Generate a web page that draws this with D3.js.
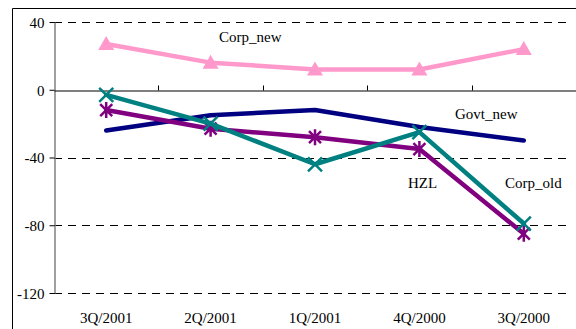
<!DOCTYPE html>
<html>
<head>
<meta charset="utf-8">
<script src="https://cdn.jsdelivr.net/npm/d3@7"></script>
<style>
  html, body { margin: 0; padding: 0; background: #fff; }
  svg { display: block; }
  text { font-family: "Liberation Serif", "Times New Roman", serif; }
</style>
</head>
<body>
<svg id="chart" width="576" height="329"></svg>
<script>
// Quarterly spread changes per bond series
const quarters = ["3Q/2001", "2Q/2001", "1Q/2001", "4Q/2000", "3Q/2000"];
const corpNew  = [27, 16, 12, 12, 24];
const govtNew  = [-24, -15, -12, -22, -30];
const corpOld  = [-3, -20, -44, -25, -79];
const hzl      = [-12, -23, -28, -35, -85];
const yTicks   = [40, 0, -40, -80, -120];

const series = [
  { name: "Govt_new", values: govtNew, color: "#000080", marker: "none",
    label: { x: 455, y: 119 } },
  { name: "HZL", values: hzl, color: "#800080", marker: "star",
    label: { x: 408, y: 188 } },
  { name: "Corp_old", values: corpOld, color: "#008080", marker: "x",
    label: { x: 505, y: 188 } },
  { name: "Corp_new", values: corpNew, color: "#FF99CC", marker: "triangle",
    label: { x: 219, y: 42 } }
];

const svg = d3.select("#chart");
const plotLeft = 54, plotRight = 576, plotTop = 22, plotBottom = 293;

const x = d3.scaleBand().domain(quarters).range([plotLeft, plotRight]);
const y = d3.scaleLinear().domain([-120, 40]).range([plotBottom, plotTop]);

// outer frame
svg.append("path")
  .attr("d", `M12.5,${329}V8.5H576`)
  .attr("fill", "none").attr("stroke", "#000").attr("stroke-width", 1);

// dashed gridlines
svg.append("g").selectAll("line")
  .data(yTicks.filter(d => d !== 0))
  .join("line")
  .attr("x1", plotLeft).attr("x2", 572)
  .attr("y1", d => Math.round(y(d)) + 0.5).attr("y2", d => Math.round(y(d)) + 0.5)
  .attr("stroke", "#000").attr("stroke-width", 1)
  .attr("stroke-dasharray", "8,6");

// y axis (plain hyphen for negative numbers)
const yAxis = svg.append("g")
  .attr("transform", `translate(${plotLeft + 0.5},0)`)
  .call(d3.axisLeft(y).tickValues(yTicks).tickSize(5).tickSizeOuter(0).tickFormat(d => String(d)));
yAxis.select(".domain").attr("stroke", "#808080").attr("stroke-width", 1.5);
yAxis.selectAll(".tick line").attr("stroke", "#000");
yAxis.selectAll(".tick text")
  .attr("x", -10).attr("dy", "0.35em")
  .attr("font-size", 15).attr("fill", "#000")
  .attr("font-family", "Liberation Serif, serif");

// zero line with category ticks
const zeroY = Math.round(y(0)) + 0.5;
const xAxis = svg.append("g")
  .attr("transform", `translate(0,${zeroY})`)
  .call(d3.axisBottom(x).tickSize(0).tickSizeOuter(0).tickFormat(""));
xAxis.select(".domain").attr("stroke", "#000").attr("stroke-width", 1.2);
svg.append("g").selectAll("line")
  .data(quarters.slice(1))
  .join("line")
  .attr("x1", d => Math.round(x(d)) + 0.5).attr("x2", d => Math.round(x(d)) + 0.5)
  .attr("y1", zeroY).attr("y2", zeroY - 5)
  .attr("stroke", "#000");

// category labels
svg.append("g").selectAll("text")
  .data(quarters)
  .join("text")
  .attr("x", d => x(d) + x.bandwidth() / 2)
  .attr("y", 323)
  .attr("text-anchor", "middle")
  .attr("font-size", 15)
  .text(d => d);

const cx = (d, i) => x(quarters[i]) + x.bandwidth() / 2;
const line = d3.line().x(cx).y(d => y(d));

series.forEach(s => {
  const g = svg.append("g");
  g.append("path")
    .datum(s.values)
    .attr("d", line)
    .attr("fill", "none")
    .attr("stroke", s.color)
    .attr("stroke-width", 4.5)
    .attr("stroke-linecap", "round")
    .attr("stroke-linejoin", "round");

  const pts = g.selectAll("g.pt")
    .data(s.values)
    .join("g")
    .attr("transform", (d, i) => `translate(${cx(d, i)},${y(d)})`);

  if (s.marker === "triangle") {
    pts.append("path")
      .attr("d", "M0,-8L8,6L-8,6Z")
      .attr("fill", s.color);
  } else if (s.marker === "x") {
    pts.append("path")
      .attr("d", "M-7,-7L7,7M-7,7L7,-7")
      .attr("stroke", s.color).attr("stroke-width", 2.5).attr("fill", "none");
  } else if (s.marker === "star") {
    pts.append("path")
      .attr("d", "M-6,-6L6,6M-6,6L6,-6M0,-8V8")
      .attr("stroke", s.color).attr("stroke-width", 2.5).attr("fill", "none");
  }

  svg.append("text")
    .attr("x", s.label.x).attr("y", s.label.y)
    .attr("font-size", 15)
    .text(s.name);
});
</script>
</body>
</html>
